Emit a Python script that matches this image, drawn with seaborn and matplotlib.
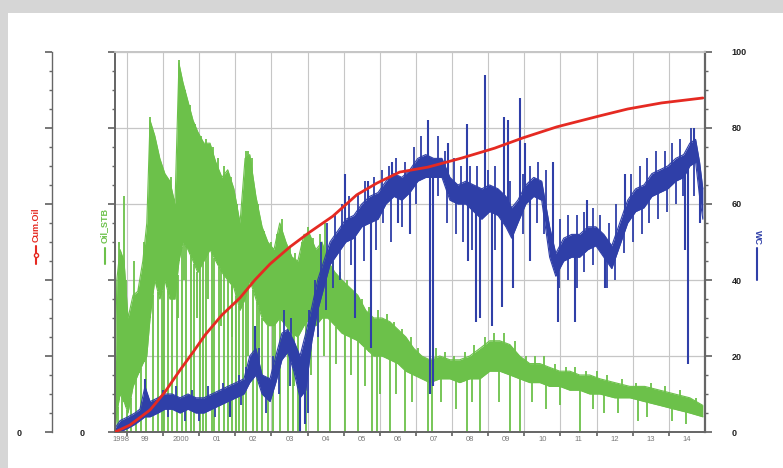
import numpy as np
import seaborn as sns
import matplotlib.pyplot as plt
from matplotlib.lines import Line2D
from matplotlib.patches import Rectangle
from matplotlib.ticker import MultipleLocator, FixedLocator

# ---- values (decimal years) ----
# cumulative oil (hidden left axis, 0-100 scale)
cum_years = [1998.67, 1999.08, 1999.64, 2000.05, 2000.47, 2000.83, 2001.16, 2001.63,
             2002.13, 2002.54, 2002.96, 2003.51, 2004.06, 2004.70, 2005.36, 2005.92,
             2006.55, 2007.33, 2008.27, 2009.18, 2009.96, 2010.90, 2012.09, 2012.86,
             2013.80, 2014.94]
cum_oil = [0, 1.8, 5.8, 10.5, 16.3, 21, 25.5, 30.8, 35.3, 40, 44.2, 48.7, 52.6,
           56.8, 62.4, 65.5, 68.4, 69.7, 72.1, 74.7, 77.4, 80.3, 83.2, 85, 86.6, 87.9]

# oil rate band (upper / lower edge of the noisy trace)
oil_years = [1998.67, 1998.72, 1998.81, 1998.92, 1999.03, 1999.17, 1999.30, 1999.44,
             1999.55, 1999.64, 1999.77, 1999.91, 2000.05, 2000.19, 2000.33, 2000.44,
             2000.55, 2000.69, 2000.83, 2000.96, 2001.13, 2001.30, 2001.46, 2001.63,
             2001.79, 2001.96, 2002.13, 2002.27, 2002.40, 2002.57, 2002.74, 2002.90,
             2003.07, 2003.23, 2003.40, 2003.57, 2003.73, 2003.90, 2004.06, 2004.23,
             2004.40, 2004.56, 2004.76, 2004.95, 2005.17, 2005.39, 2005.61, 2005.83,
             2006.06, 2006.28, 2006.50, 2006.72, 2006.94, 2007.16, 2007.38, 2007.66,
             2007.94, 2008.21, 2008.49, 2008.77, 2009.04, 2009.32, 2009.60, 2009.87,
             2010.15, 2010.43, 2010.70, 2010.98, 2011.26, 2011.53, 2011.81, 2012.09,
             2012.50, 2012.92, 2013.33, 2013.75, 2014.16, 2014.58, 2014.94]
oil_top = [10, 40, 48, 45, 30, 36, 37, 45, 55, 82, 78, 72, 68, 66, 60, 97, 92, 87, 82,
           79, 76, 76, 71, 67, 69, 64, 55, 72, 73, 62, 54, 50, 48, 55, 50, 46, 45, 52,
           52, 48, 50, 45, 42, 40, 38, 36, 32, 30, 30, 29, 27, 25, 22, 20, 19, 20, 19,
           19, 20, 22, 24, 24, 23, 20, 18, 18, 17, 16, 16, 15, 15, 14, 13, 12, 12, 11,
           10, 9, 7]
oil_low = [0, 5, 10, 8, 5, 12, 15, 18, 20, 30, 40, 35, 40, 35, 35, 45, 50, 48, 45, 42,
           45, 48, 45, 42, 40, 38, 32, 35, 40, 35, 30, 28, 28, 30, 28, 26, 25, 28, 30,
           28, 30, 30, 28, 26, 25, 24, 22, 20, 20, 19, 18, 16, 15, 14, 13, 14, 14, 13,
           14, 14, 16, 16, 15, 14, 13, 13, 12, 12, 11, 11, 10, 10, 9, 9, 8, 7, 6, 5, 4]
# peaks above the band
oil_peak_years = [1998.78, 1998.92, 1998.97, 1999.20, 1999.33, 1999.47, 1999.64, 1999.70,
                  1999.82, 1999.95, 2000.10, 2000.22, 2000.44, 2000.50, 2000.60, 2000.75,
                  2000.88, 2001.05, 2001.20, 2001.38, 2001.52, 2001.70, 2001.88, 2002.05,
                  2002.30, 2002.35, 2002.45, 2002.62, 2002.80, 2003.00, 2003.15, 2003.30,
                  2003.50, 2003.65, 2003.85, 2004.00, 2004.15, 2004.35, 2004.48, 2004.70,
                  2004.90, 2005.10, 2005.30, 2005.50, 2005.70, 2005.95, 2006.20, 2006.40,
                  2006.60, 2006.85, 2007.05, 2007.55, 2007.80, 2008.05, 2008.35, 2008.60,
                  2008.90, 2009.15, 2009.45, 2009.75, 2010.05, 2010.30, 2010.55, 2010.85,
                  2011.15, 2011.40, 2011.70, 2012.00, 2012.30, 2012.70, 2013.10, 2013.50,
                  2013.90, 2014.30, 2014.75]
oil_peak_vals = [50, 62, 40, 45, 38, 50, 83, 80, 75, 70, 66, 67, 98, 94, 90, 86, 81, 78,
                 77, 75, 72, 70, 67, 60, 74, 74, 72, 60, 53, 50, 52, 56, 49, 47, 50, 54,
                 51, 52, 55, 45, 42, 40, 38, 35, 33, 32, 31, 29, 27, 25, 22, 22, 21, 20,
                 21, 23, 25, 26, 26, 24, 20, 20, 20, 18, 17, 17, 16, 16, 15, 14, 13, 13,
                 12, 11, 9]
# dips below the band
oil_drop_years = [1998.75, 1998.86, 1999.00, 1999.11, 1999.25, 1999.39, 1999.53,
                  1999.72, 1999.86, 1999.97, 2000.03, 2000.13, 2000.25, 2000.38,
                  2000.52, 2000.63, 2000.77, 2000.86, 2001.02, 2001.10, 2001.20,
                  2001.35, 2001.42, 2001.55, 2001.68, 2001.79, 2001.92, 2002.02,
                  2002.10, 2002.21, 2002.30, 2002.49, 2002.60, 2002.74, 2002.90,
                  2003.05, 2003.23, 2003.45, 2003.60, 2003.73, 2003.95, 2004.28,
                  2004.62, 2005.03, 2005.39, 2005.78, 2005.92, 2006.28, 2006.69,
                  2007.33, 2007.44, 2008.41, 2008.77, 2009.60, 2009.87, 2011.53,
                  2012.20, 2013.14, 2014.47,
                  2000.40, 2000.58, 2000.95, 2001.25, 2001.60, 2001.90, 2002.35,
                  2002.65, 2003.10, 2003.63, 2004.10, 2004.45, 2004.80, 2005.20,
                  2005.60, 2006.00, 2006.45, 2006.90, 2007.70, 2008.10, 2008.55,
                  2009.30, 2010.20, 2010.60, 2011.00, 2011.90, 2012.60, 2013.40,
                  2014.10]
oil_drop_vals = [0] * 56 + [5, 3, 2] + [
    30, 40, 30, 35, 28, 25, 20, 18, 15, 12, 15, 20, 18, 15, 12, 10, 10, 8, 8, 6, 8,
    8, 8, 6, 7, 6, 5, 4, 3]

# water cut band
wc_years = [1998.67, 1998.81, 1999.03, 1999.22, 1999.36, 1999.50, 1999.64, 1999.86,
            2000.05, 2000.25, 2000.47, 2000.69, 2000.91, 2001.13, 2001.35, 2001.57,
            2001.79, 2002.02, 2002.24, 2002.40, 2002.57, 2002.74, 2002.96, 2003.12,
            2003.29, 2003.45, 2003.62, 2003.79, 2003.95, 2004.12, 2004.28, 2004.45,
            2004.62, 2004.84, 2005.06, 2005.28, 2005.50, 2005.72, 2005.95, 2006.17,
            2006.39, 2006.61, 2006.83, 2007.05, 2007.27, 2007.49, 2007.72, 2007.94,
            2008.16, 2008.38, 2008.60, 2008.82, 2009.04, 2009.27, 2009.49, 2009.65,
            2009.82, 2010.04, 2010.26, 2010.48, 2010.70, 2010.87, 2011.09, 2011.31,
            2011.53, 2011.76, 2011.98, 2012.20, 2012.42, 2012.64, 2012.86, 2013.08,
            2013.31, 2013.53, 2013.75, 2013.97, 2014.19, 2014.41, 2014.58, 2014.74,
            2014.85, 2014.94]
wc_top = [1, 3, 4, 5, 6, 12, 8, 9, 10, 10, 9, 10, 9, 9, 10, 11, 12, 13, 14, 20, 22,
          15, 14, 20, 26, 27, 24, 20, 26, 33, 40, 45, 50, 53, 56, 57, 60, 62, 63, 66,
          68, 67, 69, 72, 73, 72, 72, 67, 65, 66, 65, 64, 65, 64, 62, 59, 61, 65, 67,
          66, 54, 47, 51, 52, 52, 54, 54, 52, 49, 55, 61, 64, 65, 68, 69, 70, 72, 73,
          76, 77, 71, 64]
wc_low = [0, 0, 1, 2, 3, 4, 4, 5, 6, 6, 5, 6, 5, 5, 6, 7, 8, 9, 10, 13, 15, 10, 8,
          13, 19, 21, 16, 9, 11, 24, 32, 38, 44, 47, 50, 51, 54, 55, 56, 60, 62, 61,
          63, 66, 67, 67, 67, 61, 60, 60, 58, 56, 58, 57, 54, 51, 55, 60, 62, 61, 46,
          41, 45, 46, 46, 48, 49, 46, 43, 49, 55, 58, 59, 62, 63, 64, 66, 67, 70, 71,
          62, 56]
# big excursions
wc_spike_years = [1999.50, 2002.54, 2005.03, 2005.67, 2006.33, 2007.33, 2007.88,
                  2008.41, 2008.91, 2009.43, 2009.54, 2009.87, 2010.01, 2010.79,
                  2011.73, 2012.78, 2014.69,
                  2001.85, 2003.79, 2003.93, 2005.31, 2005.75, 2006.50, 2006.83,
                  2007.38, 2007.47, 2008.44, 2008.66, 2008.77, 2009.10, 2009.38,
                  2009.68, 2010.15, 2010.93, 2011.40, 2012.23, 2014.44, 2014.52,
                  2014.85]
wc_spike_vals = [14, 28, 68, 66, 71, 82, 76, 81, 94, 83, 82, 88, 76, 71, 61, 68, 80,
                 4, 0, 2, 30, 22, 55, 52, 10, 12, 45, 29, 30, 28, 33, 38, 45, 29, 29,
                 38, 48, 18, 55]
# small jitter around the band
wc_jit_years = [2000.00, 2000.35, 2000.80, 2001.25, 2001.65, 2002.10, 2002.30, 2002.65,
                2003.05, 2003.35, 2003.55, 2004.05, 2004.20, 2004.38, 2004.55, 2004.75,
                2004.95, 2005.15, 2005.40, 2005.60, 2005.85, 2006.05, 2006.25, 2006.45,
                2006.70, 2006.95, 2007.15, 2007.60, 2007.80, 2008.05, 2008.25, 2008.50,
                2008.70, 2009.00, 2009.20, 2009.60, 2009.95, 2010.15, 2010.38, 2010.60,
                2011.00, 2011.20, 2011.45, 2011.65, 2011.90, 2012.10, 2012.35, 2012.55,
                2012.95, 2013.20, 2013.40, 2013.65, 2013.90, 2014.10, 2014.30, 2014.62,
                2000.15, 2000.60, 2001.00, 2001.45, 2002.15, 2002.85, 2003.20, 2003.50,
                2004.00, 2004.30, 2004.50, 2004.70, 2004.90, 2005.20, 2005.55, 2005.90,
                2006.10, 2006.30, 2006.60, 2007.00, 2007.60, 2007.85, 2008.10, 2008.30,
                2008.55, 2009.20, 2009.95, 2010.35, 2010.55, 2010.95, 2011.20, 2011.45,
                2011.65, 2011.90, 2012.30, 2012.50, 2012.75, 2013.00, 2013.25, 2013.45,
                2013.70, 2013.95, 2014.20, 2014.38, 2014.70]
wc_jit_vals = [11, 12, 11, 12, 13, 15, 17, 22, 20, 32, 30, 32, 40, 50, 55, 57, 60, 62,
               63, 66, 67, 69, 70, 72, 71, 75, 78, 78, 74, 72, 70, 70, 70, 69, 70, 66,
               68, 70, 71, 69, 56, 57, 57, 58, 59, 57, 55, 60, 68, 70, 72, 74, 74, 76,
               77, 80,
               4, 3, 3, 4, 7, 5, 10, 12, 5, 25, 32, 38, 40, 44, 45, 48, 55, 50, 54, 60,
               62, 55, 52, 50, 48, 48, 52, 55, 52, 38, 40, 38, 42, 44, 38, 40, 47, 50,
               52, 55, 56, 58, 60, 62, 62]

year_labels = ['1998', '99', '2000', '01', '02', '03', '04', '05', '06', '07', '08',
               '09', '10', '11', '12', '13', '14']

GREEN = '#6cc14a'
BLUE = '#2f3fa8'
RED = '#e52a22'
GRID = '#c6c6c6'
AXC = '#666666'

sns.set_theme(style="white")
plt.rcParams['font.family'] = ['Liberation Sans', 'DejaVu Sans']

fig = plt.figure(figsize=(7.83, 4.68), dpi=100)
fig.patch.set_facecolor('white')
# grey frame on top and left edge
fig.add_artist(Rectangle((0, 1 - 13 / 468), 1, 13 / 468, transform=fig.transFigure,
                         color='#d6d6d6', lw=0, zorder=0))
fig.add_artist(Rectangle((0, 0), 8 / 783, 1, transform=fig.transFigure,
                         color='#d6d6d6', lw=0, zorder=0))

ax = fig.add_axes([115 / 783, 1 - 432 / 468, 590 / 783, 380 / 468])
ax_wc = ax.twinx()
ax_cum = ax.twinx()

x0, x1 = 1998.67, 2015.0
for a in (ax, ax_wc, ax_cum):
    a.set_xlim(x0, x1)
    a.set_ylim(0, 100)
    a.patch.set_visible(False)

# ---- oil rate (green) ----
ax.fill_between(oil_years, oil_low, oil_top, color=GREEN, lw=0)
sns.lineplot(x=oil_years, y=oil_top, ax=ax, color=GREEN, lw=0.8)
sns.lineplot(x=oil_years, y=oil_low, ax=ax, color=GREEN, lw=0.8)
ax.vlines(oil_drop_years, oil_drop_vals, np.interp(oil_drop_years, oil_years, oil_low),
          color=GREEN, lw=1.3)
ax.vlines(oil_peak_years, np.interp(oil_peak_years, oil_years, oil_low), oil_peak_vals,
          color=GREEN, lw=1.3)

# ---- water cut (blue) ----
ax_wc.fill_between(wc_years, wc_low, wc_top, color=BLUE, lw=0)
sns.lineplot(x=wc_years, y=wc_top, ax=ax_wc, color=BLUE, lw=0.8)
sns.lineplot(x=wc_years, y=wc_low, ax=ax_wc, color=BLUE, lw=0.8)
wc_mid = (np.interp(wc_spike_years, wc_years, wc_top)
          + np.interp(wc_spike_years, wc_years, wc_low)) / 2
ax_wc.vlines(wc_spike_years, wc_mid, wc_spike_vals, color=BLUE, lw=1.5)
jit_mid = (np.interp(wc_jit_years, wc_years, wc_top)
           + np.interp(wc_jit_years, wc_years, wc_low)) / 2
ax_wc.vlines(wc_jit_years, jit_mid, wc_jit_vals, color=BLUE, lw=1.3)

# ---- cumulative oil (red) ----
sns.lineplot(x=cum_years, y=cum_oil, ax=ax_cum, color=RED, lw=2.0)

# ---- x axis ----
years = np.arange(1999, 2015)
ax.xaxis.set_major_locator(FixedLocator(years))
mids = [(x0 + 1999) / 2] + list(years + 0.5)
ax.xaxis.set_minor_locator(FixedLocator(mids))
ax.set_xticklabels([], minor=False)
ax.set_xticklabels(year_labels, minor=True)
ax.tick_params(axis='x', which='major', length=3, color=AXC, direction='out', bottom=True)
ax.tick_params(axis='x', which='minor', length=0, labelsize=5.5, labelcolor='#777777', pad=3)
ax.grid(True, axis='x', which='major', color=GRID, lw=0.8)
ax.grid(True, axis='y', which='major', color=GRID, lw=0.9)
ax.set_axisbelow(True)

# ---- y axes ----
for a in (ax, ax_wc, ax_cum):
    a.yaxis.set_major_locator(MultipleLocator(20))
    a.yaxis.set_minor_locator(MultipleLocator(5))
    a.set_xlabel('')
    a.set_ylabel('')

ax.set_yticks(np.arange(0, 101, 20))
ax.set_yticklabels(['0', '', '', '', '', ''])
ax.tick_params(axis='y', which='major', left=True, length=5, color=AXC, direction='out',
               labelsize=6.5, labelcolor='#222222', pad=17)
ax.tick_params(axis='y', which='minor', left=True, length=2.5, color=AXC, direction='out')
for lab in ax.get_yticklabels():
    lab.set_fontweight('bold')

ax_wc.set_yticks(np.arange(0, 101, 20))
ax_wc.set_yticklabels([str(v) for v in range(0, 101, 20)])
ax_wc.tick_params(axis='y', which='major', right=True, length=5, color=AXC,
                  direction='out', labelsize=6.5, labelcolor='#222222', pad=14)
ax_wc.tick_params(axis='y', which='minor', right=True, length=2.5, color=AXC,
                  direction='out')
for lab in ax_wc.get_yticklabels():
    lab.set_fontweight('bold')

ax_cum.spines['left'].set_position(('axes', -63 / 590))
ax_cum.spines['left'].set_visible(True)
ax_cum.spines['right'].set_visible(False)
ax_cum.spines['top'].set_visible(False)
ax_cum.spines['bottom'].set_visible(False)
ax_cum.yaxis.set_ticks_position('left')
ax_cum.yaxis.set_label_position('left')
ax_cum.set_yticks(np.arange(0, 101, 20))
ax_cum.set_yticklabels(['0', '', '', '', '', ''])
ax_cum.tick_params(axis='y', which='major', left=True, right=False, length=5, color=AXC,
                   direction='out', labelsize=6.5, labelcolor='#222222', pad=17)
ax_cum.tick_params(axis='y', which='minor', left=True, right=False, length=2.5,
                   color=AXC, direction='out')
for lab in ax_cum.get_yticklabels():
    lab.set_fontweight('bold')
ax_cum.spines['left'].set_color(AXC)
ax_cum.spines['left'].set_linewidth(1.0)

for a in (ax, ax_wc):
    a.spines['top'].set_color(GRID)
    a.spines['left'].set_color(AXC)
    a.spines['bottom'].set_color(AXC)
    a.spines['right'].set_color(AXC)
ax.spines['bottom'].set_linewidth(1.2)
ax_wc.spines['right'].set_linewidth(1.6)
ax_wc.tick_params(axis='x', bottom=False, labelbottom=False)
ax_cum.tick_params(axis='x', bottom=False, labelbottom=False)

# ---- rotated axis titles with line keys ----
fig.text(36 / 783, 1 - 225 / 468, 'Cum.Oil', rotation=90, color=RED, fontsize=6.5,
         fontweight='bold', ha='center', va='center')
fig.add_artist(Line2D([36 / 783] * 3, [1 - 246 / 468, 1 - 255 / 468, 1 - 264 / 468],
                      transform=fig.transFigure, color=RED, lw=1.5, marker='o',
                      markersize=3, markevery=[1], markerfacecolor='white'))
fig.text(104 / 783, 1 - 225 / 468, 'Oil_STB', rotation=90, color=GREEN, fontsize=6.5,
         fontweight='bold', ha='center', va='center')
fig.add_artist(Line2D([105 / 783] * 2, [1 - 248 / 468, 1 - 264 / 468],
                      transform=fig.transFigure, color=GREEN, lw=1.5))
fig.text(757 / 783, 1 - 238 / 468, 'WC', rotation=270, color=BLUE, fontsize=6.5,
         fontweight='bold', ha='center', va='center')
fig.add_artist(Line2D([757 / 783] * 2, [1 - 248 / 468, 1 - 280 / 468],
                      transform=fig.transFigure, color=BLUE, lw=1.5))

fig.savefig('out.png', dpi=100)
